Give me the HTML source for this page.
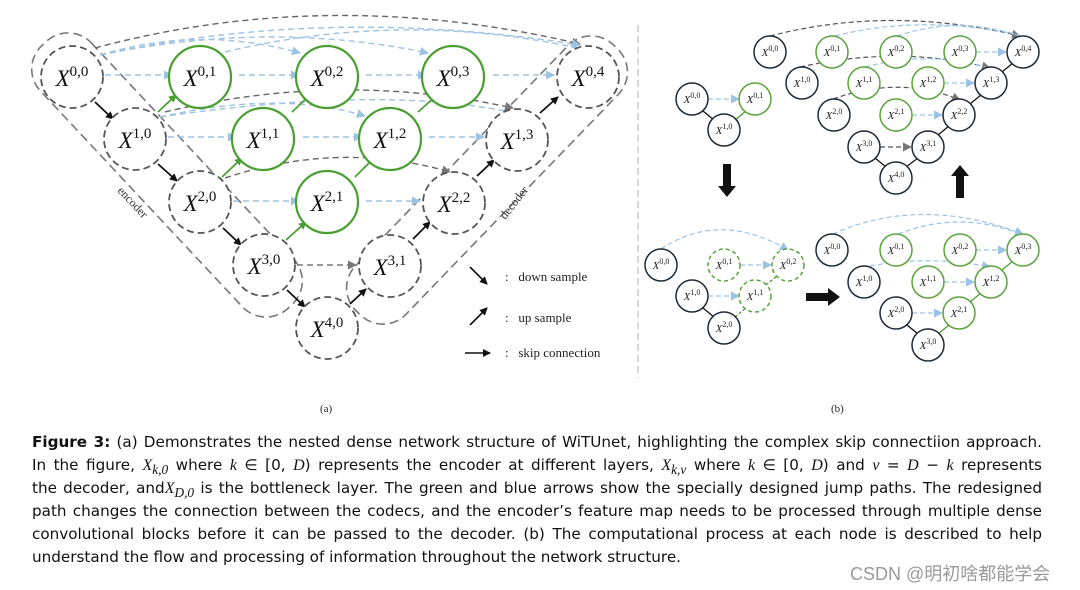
<!DOCTYPE html>
<html><head><meta charset="utf-8"><style>
body{margin:0;background:#fff;width:1080px;height:590px;overflow:hidden;position:relative;font-family:"DejaVu Sans","Liberation Sans",sans-serif}
svg{position:absolute;left:0;top:0}
.cap{position:absolute;left:32px;width:1010px;font-size:15.2px;color:#111;text-align:justify;text-align-last:justify;white-space:nowrap;line-height:20px}
.cap.last{text-align-last:left}
.m{font-family:"Liberation Serif",serif;font-style:italic;font-size:16px}
.wm{position:absolute;left:850px;top:560px;font-size:18px;color:#999;font-family:"Liberation Sans","Noto Sans CJK SC",sans-serif}
</style></head><body>
<svg width="1080" height="420" viewBox="0 0 1080 420" font-family="Liberation Serif,serif">
<defs>
<marker id="ak" markerWidth="8" markerHeight="8" refX="7" refY="4" orient="auto" markerUnits="userSpaceOnUse"><path d="M0,0 L8,4 L0,8z" fill="#111"/></marker>
<marker id="ag" markerWidth="8" markerHeight="8" refX="7" refY="4" orient="auto" markerUnits="userSpaceOnUse"><path d="M0,0 L8,4 L0,8z" fill="#4a9e32"/></marker>
<marker id="ab" markerWidth="9" markerHeight="9" refX="8" refY="4.5" orient="auto" markerUnits="userSpaceOnUse"><path d="M0,0 L9,4.5 L0,9z" fill="#9cc3e4"/></marker>
<marker id="ay" markerWidth="9" markerHeight="9" refX="8" refY="4.5" orient="auto" markerUnits="userSpaceOnUse"><path d="M0,0 L9,4.5 L0,9z" fill="#777"/></marker>
</defs>
<g fill="none" stroke="#777" stroke-width="1.6" stroke-dasharray="9,5">
<rect x="-13" y="140" width="360" height="70" rx="32" transform="rotate(46.9 167 175)"/>
<rect x="302" y="145" width="370" height="70" rx="32" transform="rotate(-46 487 180)"/>
</g>
<g fill="none" stroke-dasharray="6,4" stroke-width="1.4">
<path d="M95,48 Q330,-15 580,44" stroke="#666" marker-end="url(#ay)"/>
<path d="M100,55 Q330,5 580,45" stroke="#9cc3e4" marker-end="url(#ab)"/>
<path d="M225,52 Q400,10 578,48" stroke="#9cc3e4"/>
<path d="M100,55 Q200,25 300,53" stroke="#9cc3e4" marker-end="url(#ab)"/>
<path d="M100,55 Q270,20 428,53" stroke="#9cc3e4" marker-end="url(#ab)"/>
<path d="M165,112 Q340,70 513,108" stroke="#666" marker-end="url(#ay)"/>
<path d="M160,117 Q280,90 365,116" stroke="#9cc3e4" marker-end="url(#ab)"/>
<path d="M160,117 Q380,85 510,112" stroke="#9cc3e4"/>
<path d="M225,178 Q340,140 450,172" stroke="#666" marker-end="url(#ay)"/>
</g>
<g stroke="#9cc3e4" stroke-width="1.4" stroke-dasharray="6,4" fill="none">
<line x1="105" y1="75" x2="172" y2="75" marker-end="url(#ab)"/>
<line x1="239" y1="75" x2="299" y2="75" marker-end="url(#ab)"/>
<line x1="366" y1="75" x2="426" y2="75" marker-end="url(#ab)"/>
<line x1="493" y1="75" x2="554" y2="75" marker-end="url(#ab)"/>
<line x1="168" y1="137" x2="236" y2="137" marker-end="url(#ab)"/>
<line x1="303" y1="137" x2="362" y2="137" marker-end="url(#ab)"/>
<line x1="429" y1="137" x2="484" y2="137" marker-end="url(#ab)"/>
<line x1="233" y1="201" x2="299" y2="201" marker-end="url(#ab)"/>
<line x1="366" y1="201" x2="420" y2="201" marker-end="url(#ab)"/>
</g>
<line x1="297" y1="265" x2="356" y2="265" stroke="#777" stroke-width="1.4" stroke-dasharray="6,4" marker-end="url(#ay)"/>
<g stroke="#111" stroke-width="1.8" marker-end="url(#ak)">
<line x1="95" y1="102" x2="113" y2="119"/>
<line x1="158" y1="164" x2="177" y2="181"/>
<line x1="223" y1="228" x2="241" y2="245"/>
<line x1="287" y1="290" x2="305" y2="307"/>
<line x1="350" y1="304" x2="366" y2="289"/>
<line x1="413" y1="239" x2="430" y2="222"/>
<line x1="477" y1="176" x2="494" y2="160"/>
<line x1="540" y1="113" x2="558" y2="97"/>
</g>
<g stroke="#4a9e32" stroke-width="1.8" marker-end="url(#ag)">
<line x1="158" y1="112" x2="176" y2="95"/>
<line x1="222" y1="177" x2="242" y2="158"/>
<line x1="286" y1="240" x2="306" y2="222"/>
<line x1="292" y1="112" x2="310" y2="95"/>
<line x1="355" y1="177" x2="374" y2="158"/>
<line x1="418" y1="112" x2="437" y2="95"/>
</g>
<g fill="#fff" stroke="#555" stroke-width="1.8" stroke-dasharray="7,4">
<ellipse cx="72" cy="77" rx="31" ry="31"/><ellipse cx="588" cy="77" rx="31" ry="31"/>
<ellipse cx="135" cy="139" rx="31" ry="31"/><ellipse cx="517" cy="140" rx="31" ry="31"/>
<ellipse cx="200" cy="202" rx="31" ry="31"/><ellipse cx="454" cy="203" rx="31" ry="31"/>
<ellipse cx="264" cy="265" rx="31" ry="31"/><ellipse cx="390" cy="266" rx="31" ry="31"/>
<ellipse cx="327" cy="328" rx="31" ry="31"/>
</g>
<g fill="#fff" stroke="#4a9e32" stroke-width="2.2">
<ellipse cx="200" cy="77" rx="31" ry="31"/><ellipse cx="327" cy="77" rx="31" ry="31"/><ellipse cx="453" cy="77" rx="31" ry="31"/>
<ellipse cx="263" cy="139" rx="31" ry="31"/><ellipse cx="390" cy="139" rx="31" ry="31"/>
<ellipse cx="327" cy="202" rx="31" ry="31"/>
</g>
<g font-size="23" font-style="italic" fill="#111" text-anchor="middle">
<text x="72" y="86">X<tspan dy="-10" font-size="15" font-style="normal">0,0</tspan></text>
<text x="200" y="86">X<tspan dy="-10" font-size="15" font-style="normal">0,1</tspan></text>
<text x="327" y="86">X<tspan dy="-10" font-size="15" font-style="normal">0,2</tspan></text>
<text x="453" y="86">X<tspan dy="-10" font-size="15" font-style="normal">0,3</tspan></text>
<text x="588" y="86">X<tspan dy="-10" font-size="15" font-style="normal">0,4</tspan></text>
<text x="135" y="148">X<tspan dy="-10" font-size="15" font-style="normal">1,0</tspan></text>
<text x="263" y="148">X<tspan dy="-10" font-size="15" font-style="normal">1,1</tspan></text>
<text x="390" y="148">X<tspan dy="-10" font-size="15" font-style="normal">1,2</tspan></text>
<text x="517" y="149">X<tspan dy="-10" font-size="15" font-style="normal">1,3</tspan></text>
<text x="200" y="211">X<tspan dy="-10" font-size="15" font-style="normal">2,0</tspan></text>
<text x="327" y="211">X<tspan dy="-10" font-size="15" font-style="normal">2,1</tspan></text>
<text x="454" y="212">X<tspan dy="-10" font-size="15" font-style="normal">2,2</tspan></text>
<text x="264" y="274">X<tspan dy="-10" font-size="15" font-style="normal">3,0</tspan></text>
<text x="390" y="275">X<tspan dy="-10" font-size="15" font-style="normal">3,1</tspan></text>
<text x="327" y="337">X<tspan dy="-10" font-size="15" font-style="normal">4,0</tspan></text>
</g>
<text x="130" y="205" font-size="12" fill="#333" transform="rotate(47 130 205)" text-anchor="middle">encoder</text>
<text x="517" y="205" font-size="12" fill="#333" transform="rotate(-52 517 205)" text-anchor="middle">decoder</text>
<g stroke="#111" stroke-width="1.6" marker-end="url(#ak)">
<line x1="470" y1="267" x2="487" y2="284"/>
<line x1="470" y1="325" x2="487" y2="308"/>
<line x1="465" y1="353" x2="490" y2="353"/>
</g>
<g font-size="13" fill="#222">
<text x="505" y="281">:&#160;&#160; down sample</text>
<text x="505" y="322">:&#160;&#160; up sample</text>
<text x="505" y="357">:&#160;&#160; skip connection</text>
<text x="320" y="412" font-size="11">(a)</text>
<text x="831" y="412" font-size="11">(b)</text>
</g>
<line x1="638" y1="25" x2="638" y2="378" stroke="#ccc" stroke-width="1.5" stroke-dasharray="7,4"/>
<g fill="none" stroke-dasharray="5,3" stroke-width="1.2">
<path d="M770,36 Q890,5 1020,36" stroke="#555" marker-end="url(#ay)"/>
<path d="M897,36 Q960,15 1020,36" stroke="#9cc3e4"/>
<path d="M835,36 Q920,14 1020,35" stroke="#9cc3e4"/>
<path d="M800,67 Q900,45 990,68" stroke="#555" marker-end="url(#ay)"/>
<path d="M865,67 Q930,50 988,68" stroke="#9cc3e4"/>
<path d="M833,99 Q900,75 960,100" stroke="#555" marker-end="url(#ay)"/>
<path d="M661,249 Q720,210 788,250" stroke="#9cc3e4" marker-end="url(#ab)"/>
<path d="M833,234 Q920,195 1023,234" stroke="#9cc3e4" marker-end="url(#ab)"/>
<path d="M898,234 Q960,210 1020,234" stroke="#9cc3e4"/>
<path d="M870,266 Q930,255 990,267" stroke="#9cc3e4" marker-end="url(#ab)"/>
</g>
<g stroke="#9cc3e4" stroke-width="1.2" stroke-dasharray="5,3" fill="none" marker-end="url(#ab)">
<line x1="976" y1="52" x2="1006" y2="52"/>
<line x1="944" y1="83" x2="974" y2="83"/>
<line x1="912" y1="115" x2="942" y2="115"/>
<line x1="708" y1="99" x2="739" y2="99"/>
<line x1="740" y1="265" x2="771" y2="265"/>
<line x1="708" y1="296" x2="739" y2="296"/>
<line x1="976" y1="250" x2="1006" y2="250"/>
<line x1="944" y1="282" x2="974" y2="282"/>
<line x1="912" y1="313" x2="942" y2="313"/>
</g>
<line x1="880" y1="147" x2="911" y2="147" stroke="#555" stroke-width="1.2" stroke-dasharray="5,3" marker-end="url(#ay)"/>
<g stroke="#111" stroke-width="1.3">
<line x1="703" y1="111" x2="714" y2="120"/>
<line x1="875" y1="158" x2="886" y2="167"/>
<line x1="906" y1="167" x2="918" y2="158"/>
<line x1="938" y1="135" x2="949" y2="126"/>
<line x1="970" y1="104" x2="981" y2="95"/>
<line x1="1002" y1="72" x2="1013" y2="63"/>
<line x1="703" y1="308" x2="714" y2="317"/>
<line x1="907" y1="325" x2="918" y2="334"/>
</g>
<g stroke="#4a9e32" stroke-width="1.3">
<line x1="735" y1="120" x2="746" y2="111"/>
<line x1="938" y1="334" x2="949" y2="325"/>
<line x1="970" y1="302" x2="981" y2="293"/>
<line x1="1002" y1="270" x2="1013" y2="261"/>
</g>
<g stroke="#4a9e32" stroke-width="1.3" stroke-dasharray="3,2">
<line x1="735" y1="317" x2="746" y2="308"/>
<line x1="766" y1="285" x2="777" y2="276"/>
</g>
<g fill="#fff" stroke="#1e2a35" stroke-width="1.5">
<circle cx="770" cy="52" r="16"/><circle cx="1023" cy="52" r="16"/>
<circle cx="802" cy="83" r="16"/><circle cx="991" cy="83" r="16"/>
<circle cx="834" cy="115" r="16"/><circle cx="959" cy="115" r="16"/>
<circle cx="864" cy="147" r="16"/><circle cx="928" cy="147" r="16"/>
<circle cx="896" cy="178" r="16"/>
<circle cx="692" cy="99" r="16"/><circle cx="724" cy="130" r="16"/>
<circle cx="661" cy="265" r="16"/><circle cx="692" cy="296" r="16"/><circle cx="724" cy="328" r="16"/>
<circle cx="832" cy="250" r="16"/><circle cx="864" cy="282" r="16"/><circle cx="896" cy="313" r="16"/><circle cx="928" cy="345" r="16"/>
</g>
<g fill="#fff" stroke="#5aa33c" stroke-width="1.5">
<circle cx="832" cy="52" r="16"/><circle cx="896" cy="52" r="16"/><circle cx="960" cy="52" r="16"/>
<circle cx="864" cy="83" r="16"/><circle cx="928" cy="83" r="16"/>
<circle cx="896" cy="115" r="16"/>
<circle cx="755" cy="99" r="16"/>
<circle cx="896" cy="250" r="16"/><circle cx="960" cy="250" r="16"/><circle cx="1023" cy="250" r="16"/>
<circle cx="928" cy="282" r="16"/><circle cx="991" cy="282" r="16"/>
<circle cx="959" cy="313" r="16"/>
</g>
<g fill="#fff" stroke="#5aa33c" stroke-width="1.5" stroke-dasharray="4,3">
<circle cx="724" cy="265" r="16"/><circle cx="788" cy="265" r="16"/><circle cx="755" cy="296" r="16"/>
</g>
<g font-size="11" font-style="italic" fill="#222" text-anchor="middle">
<text x="770" y="56">X<tspan dy="-5" font-size="8" font-style="normal">0,0</tspan></text>
<text x="832" y="56">X<tspan dy="-5" font-size="8" font-style="normal">0,1</tspan></text>
<text x="896" y="56">X<tspan dy="-5" font-size="8" font-style="normal">0,2</tspan></text>
<text x="960" y="56">X<tspan dy="-5" font-size="8" font-style="normal">0,3</tspan></text>
<text x="1023" y="56">X<tspan dy="-5" font-size="8" font-style="normal">0,4</tspan></text>
<text x="802" y="87">X<tspan dy="-5" font-size="8" font-style="normal">1,0</tspan></text>
<text x="864" y="87">X<tspan dy="-5" font-size="8" font-style="normal">1,1</tspan></text>
<text x="928" y="87">X<tspan dy="-5" font-size="8" font-style="normal">1,2</tspan></text>
<text x="991" y="87">X<tspan dy="-5" font-size="8" font-style="normal">1,3</tspan></text>
<text x="834" y="119">X<tspan dy="-5" font-size="8" font-style="normal">2,0</tspan></text>
<text x="896" y="119">X<tspan dy="-5" font-size="8" font-style="normal">2,1</tspan></text>
<text x="959" y="119">X<tspan dy="-5" font-size="8" font-style="normal">2,2</tspan></text>
<text x="864" y="151">X<tspan dy="-5" font-size="8" font-style="normal">3,0</tspan></text>
<text x="928" y="151">X<tspan dy="-5" font-size="8" font-style="normal">3,1</tspan></text>
<text x="896" y="182">X<tspan dy="-5" font-size="8" font-style="normal">4,0</tspan></text>
<text x="692" y="103">X<tspan dy="-5" font-size="8" font-style="normal">0,0</tspan></text>
<text x="755" y="103">X<tspan dy="-5" font-size="8" font-style="normal">0,1</tspan></text>
<text x="724" y="134">X<tspan dy="-5" font-size="8" font-style="normal">1,0</tspan></text>
<text x="661" y="269">X<tspan dy="-5" font-size="8" font-style="normal">0,0</tspan></text>
<text x="724" y="269">X<tspan dy="-5" font-size="8" font-style="normal">0,1</tspan></text>
<text x="788" y="269">X<tspan dy="-5" font-size="8" font-style="normal">0,2</tspan></text>
<text x="692" y="300">X<tspan dy="-5" font-size="8" font-style="normal">1,0</tspan></text>
<text x="755" y="300">X<tspan dy="-5" font-size="8" font-style="normal">1,1</tspan></text>
<text x="724" y="332">X<tspan dy="-5" font-size="8" font-style="normal">2,0</tspan></text>
<text x="832" y="254">X<tspan dy="-5" font-size="8" font-style="normal">0,0</tspan></text>
<text x="896" y="254">X<tspan dy="-5" font-size="8" font-style="normal">0,1</tspan></text>
<text x="960" y="254">X<tspan dy="-5" font-size="8" font-style="normal">0,2</tspan></text>
<text x="1023" y="254">X<tspan dy="-5" font-size="8" font-style="normal">0,3</tspan></text>
<text x="864" y="286">X<tspan dy="-5" font-size="8" font-style="normal">1,0</tspan></text>
<text x="928" y="286">X<tspan dy="-5" font-size="8" font-style="normal">1,1</tspan></text>
<text x="991" y="286">X<tspan dy="-5" font-size="8" font-style="normal">1,2</tspan></text>
<text x="896" y="317">X<tspan dy="-5" font-size="8" font-style="normal">2,0</tspan></text>
<text x="959" y="317">X<tspan dy="-5" font-size="8" font-style="normal">2,1</tspan></text>
<text x="928" y="349">X<tspan dy="-5" font-size="8" font-style="normal">3,0</tspan></text>
</g>
<path d="M723,164 h8 v22 h5 l-9,11 l-9,-11 h5z" fill="#111"/>
<path d="M956,198 h8 v-22 h5 l-9,-11 l-9,11 h5z" fill="#111"/>
<path d="M806,293 h22 v-5 l12,9 l-12,9 v-5 h-22z" fill="#111"/>
</svg>
<div class="cap" style="top:432px"><b>Figure 3:</b> (a) Demonstrates the nested dense network structure of WiTUnet, highlighting the complex skip connectiion approach.</div>
<div class="cap" style="top:455px">In the figure, <span class="m">X<sub>k,0</sub></span> where <span class="m">k</span> ∈ [0, <span class="m">D</span>) represents the encoder at different layers, <span class="m">X<sub>k,v</sub></span> where <span class="m">k</span> ∈ [0, <span class="m">D</span>) and <span class="m">v</span> = <span class="m">D</span> − <span class="m">k</span> represents</div>
<div class="cap" style="top:478px">the decoder, and<span class="m">X<sub>D,0</sub></span> is the bottleneck layer. The green and blue arrows show the specially designed jump paths. The redesigned</div>
<div class="cap" style="top:501px">path changes the connection between the codecs, and the encoder’s feature map needs to be processed through multiple dense</div>
<div class="cap" style="top:524px">convolutional blocks before it can be passed to the decoder. (b) The computational process at each node is described to help</div>
<div class="cap last" style="top:547px">understand the flow and processing of information throughout the network structure.</div>
<div class="wm">CSDN @明初啥都能学会</div>
</body></html>
